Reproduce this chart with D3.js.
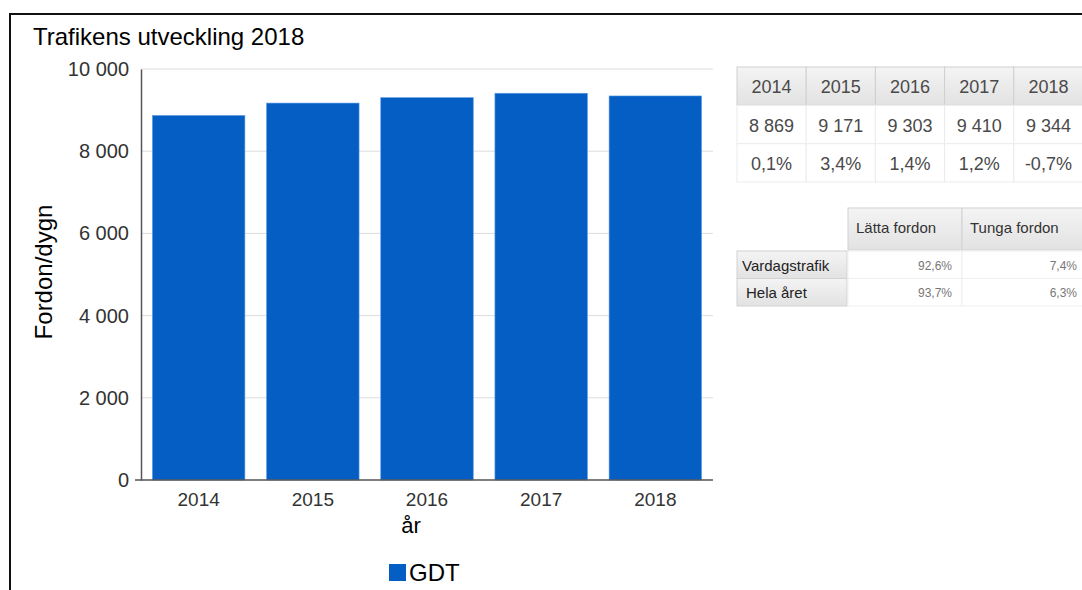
<!DOCTYPE html>
<html>
<head>
<meta charset="utf-8">
<script src="https://cdn.jsdelivr.net/npm/d3@7"></script>
<style>
  body { margin: 0; background: #fff; }
  svg { display: block; font-family: Arial, "Liberation Sans", sans-serif; }
</style>
</head>
<body>
<svg id="chart"></svg>
<script>
// Data
let years = ["2014", "2015", "2016", "2017", "2018"];
let gdt = [8869, 9171, 9303, 9410, 9344];
let gdtLabels = ["8 869", "9 171", "9 303", "9 410", "9 344"];
let change = ["0,1%", "3,4%", "1,4%", "1,2%", "-0,7%"];
let yTicks = [0, 2000, 4000, 6000, 8000, 10000];

let shareCols = ["Lätta fordon", "Tunga fordon"];
let shareRows = ["Vardagstrafik", "Hela året"];
let shareVals = [["92,6%", "7,4%"], ["93,7%", "6,3%"]];

let width = 1082, height = 590;
let margin = { top: 69, right: 369, bottom: 110, left: 141 };
let barColor = "#045ec4";
let fmt = d => d3.format(",")(d).replace(/,/g, " ");

let svg = d3.select("#chart")
  .attr("width", width)
  .attr("height", height)
  .attr("viewBox", [0, 0, width, height]);

// Frame (only top and left edges are visible in the picture)
svg.append("path")
  .attr("d", `M10,${height + 5}V14H${width + 5}`)
  .attr("fill", "none")
  .attr("stroke", "#111")
  .attr("stroke-width", 2);

// Scales
let xScale = d3.scaleBand()
  .domain(years)
  .range([margin.left, width - margin.right])
  .paddingInner(0.19)
  .paddingOuter(0.1);

let yScale = d3.scaleLinear()
  .domain([0, 10000])
  .range([height - margin.bottom, margin.top]);

// Gridlines
svg.append("g")
  .selectAll("line")
  .data(yTicks.filter(d => d > 0))
  .join("line")
  .attr("x1", margin.left)
  .attr("x2", width - margin.right)
  .attr("y1", d => yScale(d))
  .attr("y2", d => yScale(d))
  .attr("stroke", "#dcdcdc");

// Bars
svg.append("g")
  .selectAll("rect")
  .data(years)
  .join("rect")
  .attr("x", d => xScale(d))
  .attr("width", xScale.bandwidth())
  .attr("y", (d, i) => yScale(gdt[i]))
  .attr("height", (d, i) => yScale(0) - yScale(gdt[i]))
  .attr("fill", barColor)
  .attr("stroke", "#5a9be3")
  .attr("stroke-width", 0.6);

// Y axis
let yAxis = d3.axisLeft(yScale).tickValues(yTicks).tickFormat(fmt).tickSize(0).tickPadding(12);
let yG = svg.append("g")
  .attr("transform", `translate(${margin.left},0)`)
  .call(yAxis);
yG.select(".domain").attr("stroke", "#555").attr("stroke-width", 1.5);
yG.selectAll("text")
  .attr("font-size", 20)
  .attr("font-family", "Arial, 'Liberation Sans', sans-serif")
  .attr("fill", "#333");

// X axis
let xAxis = d3.axisBottom(xScale).tickSize(0).tickPadding(13);
let xG = svg.append("g")
  .attr("transform", `translate(0,${yScale(0)})`)
  .call(xAxis);
xG.select(".domain").attr("stroke", "#555").attr("stroke-width", 1.5).attr("d", `M${margin.left - 6},0H${width - margin.right}`);
xG.selectAll("text")
  .attr("font-size", 19)
  .attr("font-family", "Arial, 'Liberation Sans', sans-serif")
  .attr("fill", "#333");

// Titles
svg.append("text")
  .attr("x", 33)
  .attr("y", 45)
  .attr("font-size", 24)
  .attr("fill", "#000")
  .text("Trafikens utveckling 2018");

svg.append("text")
  .attr("transform", `rotate(-90)`)
  .attr("x", -272)
  .attr("y", 52)
  .attr("text-anchor", "middle")
  .attr("font-size", 24)
  .attr("fill", "#000")
  .text("Fordon/dygn");

svg.append("text")
  .attr("x", 411)
  .attr("y", 533)
  .attr("text-anchor", "middle")
  .attr("font-size", 22)
  .attr("fill", "#000")
  .text("år");

// Legend
svg.append("rect")
  .attr("x", 389)
  .attr("y", 564)
  .attr("width", 17)
  .attr("height", 17)
  .attr("fill", barColor);
svg.append("text")
  .attr("x", 409)
  .attr("y", 581)
  .attr("font-size", 24)
  .attr("fill", "#000")
  .text("GDT");

// Header gradient
let defs = svg.append("defs");
let grad = defs.append("linearGradient")
  .attr("id", "hdr").attr("x1", 0).attr("x2", 0).attr("y1", 0).attr("y2", 1);
grad.append("stop").attr("offset", "0%").attr("stop-color", "#f4f4f4");
grad.append("stop").attr("offset", "100%").attr("stop-color", "#e2e2e2");

// Table 1: yearly values
let t1x = d3.scaleBand().domain(years).range([737, 1083]);
let t1Rows = [years, gdtLabels, change];
let t1y = d3.scaleBand().domain([0, 1, 2]).range([67, 182]);

let t1 = svg.append("g");
t1Rows.forEach((row, r) => {
  t1.selectAll(null)
    .data(row)
    .join("rect")
    .attr("x", (d, i) => t1x(years[i]))
    .attr("y", t1y(r))
    .attr("width", t1x.bandwidth())
    .attr("height", t1y.bandwidth())
    .attr("fill", r === 0 ? "url(#hdr)" : "#fff")
    .attr("stroke", r === 0 ? "#cfcfcf" : "#ececec");
  t1.selectAll(null)
    .data(row)
    .join("text")
    .attr("x", (d, i) => t1x(years[i]) + t1x.bandwidth() / 2)
    .attr("y", t1y(r) + t1y.bandwidth() / 2 + 7)
    .attr("text-anchor", "middle")
    .attr("font-size", 18)
    .attr("fill", "#4a4a4a")
    .text(d => d);
});

// Table 2: vehicle shares
let t2x = d3.scaleOrdinal().domain(["row"].concat(shareCols)).range([737, 848, 962]);
let t2w = { row: 110, "Lätta fordon": 114, "Tunga fordon": 125 };
let t2 = svg.append("g");

t2.selectAll(null)
  .data(shareCols)
  .join("rect")
  .attr("x", d => t2x(d))
  .attr("y", 208)
  .attr("width", d => t2w[d])
  .attr("height", 42)
  .attr("fill", "url(#hdr)")
  .attr("stroke", "#d2d2d2");
t2.selectAll(null)
  .data(shareCols)
  .join("text")
  .attr("x", d => t2x(d) + 8)
  .attr("y", 233)
  .attr("font-size", 15)
  .attr("fill", "#333")
  .text(d => d);

let t2y = d3.scaleBand().domain(shareRows).range([251, 306]);
t2.selectAll(null)
  .data(shareRows)
  .join("rect")
  .attr("x", t2x("row"))
  .attr("y", d => t2y(d))
  .attr("width", t2w.row)
  .attr("height", t2y.bandwidth())
  .attr("fill", "url(#hdr)")
  .attr("stroke", "#d2d2d2");
t2.selectAll(null)
  .data(shareRows)
  .join("text")
  .attr("x", (d, i) => t2x("row") + (i === 0 ? 5 : 9))
  .attr("y", d => t2y(d) + t2y.bandwidth() / 2 + 6)
  .attr("font-size", 15)
  .attr("fill", "#222")
  .text(d => d);

shareRows.forEach((rowName, r) => {
  t2.selectAll(null)
    .data(shareVals[r])
    .join("rect")
    .attr("x", (d, i) => t2x(shareCols[i]))
    .attr("y", t2y(rowName))
    .attr("width", (d, i) => t2w[shareCols[i]])
    .attr("height", t2y.bandwidth())
    .attr("fill", "#fff")
    .attr("stroke", "#efefef");
  t2.selectAll(null)
    .data(shareVals[r])
    .join("text")
    .attr("x", (d, i) => t2x(shareCols[i]) + t2w[shareCols[i]] - 10)
    .attr("y", t2y(rowName) + t2y.bandwidth() / 2 + 5)
    .attr("text-anchor", "end")
    .attr("font-size", 12)
    .attr("fill", "#777")
    .text(d => d);
});
</script>
</body>
</html>
